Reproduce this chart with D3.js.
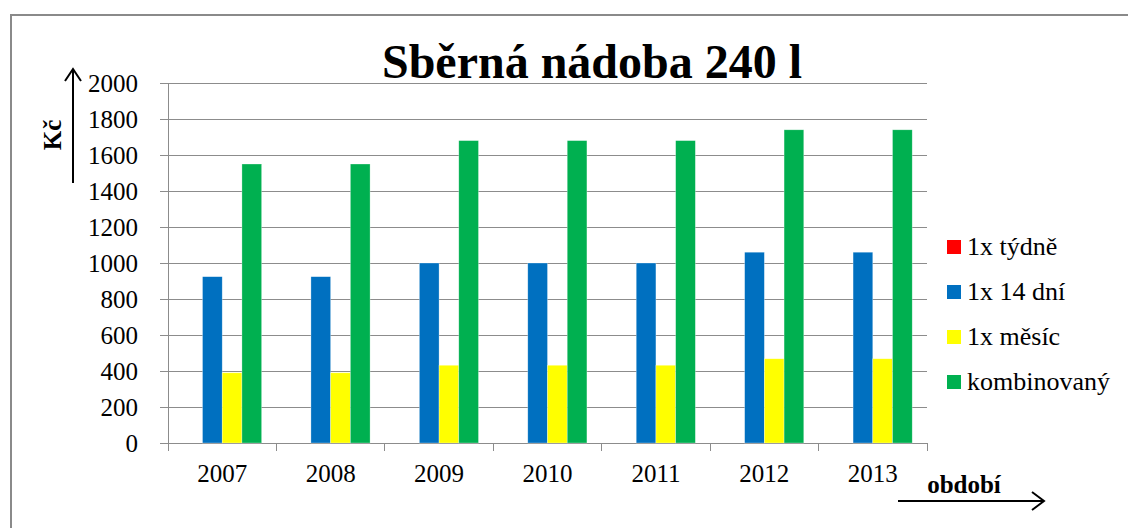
<!DOCTYPE html>
<html>
<head>
<meta charset="utf-8">
<script src="https://cdn.jsdelivr.net/npm/d3@7"></script>
<style>
  body { margin: 0; background: #fff; }
</style>
</head>
<body>
<div id="chart"></div>
<script>
// data
const years = ["2007", "2008", "2009", "2010", "2011", "2012", "2013"];
const seriesNames = ["1x týdně", "1x 14 dní", "1x měsíc", "kombinovaný"];
const seriesColors = ["#ff0000", "#0070c0", "#ffff00", "#00b050"];
const weekly = [0, 0, 0, 0, 0, 0, 0];
const biweekly = [924, 924, 1000, 1000, 1000, 1060, 1060];
const monthly = [390, 390, 432, 432, 432, 468, 468];
const combined = [1550, 1550, 1680, 1680, 1680, 1740, 1740];
const yTicks = [0, 200, 400, 600, 800, 1000, 1200, 1400, 1600, 1800, 2000];

const seriesValues = [weekly, biweekly, monthly, combined];

const width = 1128;
const height = 528;
const grid = "#8c8c8c";
const serif = "'Liberation Serif', 'Times New Roman', Times, serif";

const svg = d3.select("#chart")
  .append("svg")
  .attr("width", width)
  .attr("height", height);

// outer frame
svg.append("rect")
  .attr("x", 11).attr("y", 15)
  .attr("width", width + 10).attr("height", height + 10)
  .attr("fill", "none")
  .attr("stroke", "#8a8a8a")
  .attr("stroke-width", 2);

// =======================
// SCALES
// =======================
const plotLeft = 168, plotRight = 927, plotTop = 83, plotBottom = 443;

const x0 = d3.scaleBand()
  .domain(years)
  .range([plotLeft, plotRight])
  .padding(0);

const x1 = d3.scaleBand()
  .domain(seriesNames)
  .range([0, x0.bandwidth()])
  .paddingInner(0)
  .paddingOuter(0.75);

const y = d3.scaleLinear()
  .domain([0, 2000])
  .range([plotBottom, plotTop]);

// =======================
// GRID + AXES
// =======================
svg.append("g")
  .selectAll("line")
  .data(yTicks.filter(d => d > 0))
  .enter()
  .append("line")
  .attr("x1", plotLeft).attr("x2", plotRight)
  .attr("y1", d => y(d)).attr("y2", d => y(d))
  .attr("stroke", grid)
  .attr("stroke-width", 1)
  .attr("shape-rendering", "crispEdges");

const yAxis = svg.append("g")
  .attr("transform", `translate(${plotLeft},0)`)
  .call(d3.axisLeft(y).tickValues(yTicks).tickFormat(d3.format("d")).tickSize(8).tickPadding(22));
yAxis.select(".domain").attr("stroke", grid);
yAxis.selectAll(".tick line").attr("stroke", grid).attr("shape-rendering", "crispEdges");
yAxis.selectAll("text")
  .style("font-family", serif)
  .attr("font-size", 25)
  .attr("fill", "#000");

const xAxis = svg.append("g")
  .attr("transform", `translate(0,${plotBottom})`)
  .call(d3.axisBottom(x0).tickSize(0).tickPadding(21));
xAxis.select(".domain").attr("stroke", grid);
xAxis.selectAll("text")
  .style("font-family", serif)
  .attr("font-size", 25)
  .attr("fill", "#000");

// category boundary ticks
svg.append("g")
  .selectAll("line")
  .data(years.concat(["end"]))
  .enter()
  .append("line")
  .attr("x1", (d, i) => i < years.length ? x0(d) : plotRight)
  .attr("x2", (d, i) => i < years.length ? x0(d) : plotRight)
  .attr("y1", plotBottom).attr("y2", plotBottom + 8)
  .attr("stroke", grid)
  .attr("shape-rendering", "crispEdges");

// =======================
// BARS
// =======================
const groups = svg.append("g")
  .selectAll("g")
  .data(years)
  .enter()
  .append("g")
  .attr("transform", d => `translate(${x0(d)},0)`);

groups.selectAll("rect")
  .data((d, i) => seriesNames.map((s, k) => ({ s, v: seriesValues[k][i], c: seriesColors[k] })))
  .enter()
  .append("rect")
  .attr("x", d => x1(d.s))
  .attr("width", x1.bandwidth())
  .attr("y", d => y(d.v))
  .attr("height", d => y(0) - y(d.v))
  .attr("fill", d => d.c)
  .attr("stroke", d => d.v > 0 ? "rgba(255,255,255,0.5)" : "none")
  .attr("stroke-width", 0.6);

// =======================
// TITLE + AXIS LABELS
// =======================
svg.append("text")
  .attr("x", 592).attr("y", 78)
  .attr("text-anchor", "middle")
  .attr("font-size", 48)
  .attr("font-weight", "bold")
  .style("font-family", serif)
  .text("Sběrná nádoba 240 l");

svg.append("text")
  .attr("transform", "translate(61,135) rotate(-90)")
  .attr("text-anchor", "middle")
  .attr("font-size", 25)
  .attr("font-weight", "bold")
  .style("font-family", serif)
  .text("Kč");

svg.append("text")
  .attr("x", 964).attr("y", 493)
  .attr("text-anchor", "middle")
  .attr("font-size", 25)
  .attr("font-weight", "bold")
  .style("font-family", serif)
  .text("období");

// arrows
svg.append("path")
  .attr("d", "M73,183 L73,70 M65,81 L73,69 L81,81")
  .attr("fill", "none")
  .attr("stroke", "#000")
  .attr("stroke-width", 2);

svg.append("path")
  .attr("d", "M898,501 L1044,501 M1032,492 L1044,501 L1032,510")
  .attr("fill", "none")
  .attr("stroke", "#000")
  .attr("stroke-width", 2);

// =======================
// LEGEND
// =======================
const legend = svg.append("g")
  .selectAll("g")
  .data(seriesNames)
  .enter()
  .append("g")
  .attr("transform", (d, i) => `translate(947,${247 + i * 45})`);

legend.append("rect")
  .attr("x", 0).attr("y", -7)
  .attr("width", 14).attr("height", 14)
  .attr("fill", (d, i) => seriesColors[i]);

legend.append("text")
  .attr("x", 20).attr("y", 8)
  .attr("font-size", 26)
  .style("font-family", serif)
  .text(d => d);
</script>
</body>
</html>
